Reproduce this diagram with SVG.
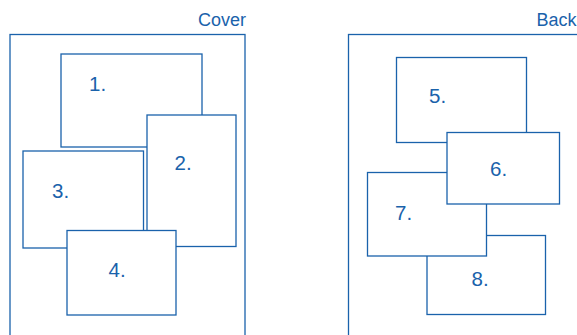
<svg xmlns="http://www.w3.org/2000/svg" width="577" height="335" viewBox="0 0 577 335">
  <style>
    .frame { fill: none; stroke: #1a62ab; stroke-width: 1.3; }
    .sheet { fill: #ffffff; stroke: #1a62ab; stroke-width: 1.3; }
    .lbl { font-family: "Liberation Sans", Arial, sans-serif; font-size: 18px; fill: #1a62ab; }
    .num { font-family: "Liberation Sans", Arial, sans-serif; font-size: 20.5px; fill: #1a62ab; }
  </style>
  <rect width="577" height="335" fill="#ffffff"/>

  <!-- Cover side -->
  <g id="cover">
    <rect class="frame" x="10" y="34.5" width="235" height="310"/>
    <text class="lbl" x="246" y="26" text-anchor="end">Cover</text>
  </g>
  <g id="sheet1">
    <rect class="sheet" x="61" y="54" width="141" height="93"/>
    <text class="num" x="89" y="91">1.</text>
  </g>
  <g id="sheet3">
    <rect class="sheet" x="23" y="151" width="120.5" height="97"/>
    <text class="num" x="52" y="198">3.</text>
  </g>
  <g id="sheet2">
    <rect class="sheet" x="147" y="115" width="89" height="131.5"/>
    <text class="num" x="174.5" y="169.5">2.</text>
  </g>
  <g id="sheet4">
    <rect class="sheet" x="67" y="230.5" width="109" height="84.5"/>
    <text class="num" x="108.5" y="276.5">4.</text>
  </g>

  <!-- Back side -->
  <g id="back">
    <rect class="frame" x="348.5" y="34.5" width="240" height="310"/>
    <text class="lbl" x="536.5" y="26">Back</text>
  </g>
  <g id="sheet5">
    <rect class="sheet" x="396.5" y="57.5" width="130" height="85"/>
    <text class="num" x="429" y="102.5">5.</text>
  </g>
  <g id="sheet8">
    <rect class="sheet" x="427" y="235.5" width="118.5" height="79"/>
    <text class="num" x="471.5" y="286">8.</text>
  </g>
  <g id="sheet7">
    <rect class="sheet" x="367.5" y="172.5" width="119" height="83.5"/>
    <text class="num" x="395" y="220">7.</text>
  </g>
  <g id="sheet6">
    <rect class="sheet" x="447" y="132.5" width="112.5" height="71.5"/>
    <text class="num" x="490" y="175.5">6.</text>
  </g>

  <g id="connectors"/>
</svg>
